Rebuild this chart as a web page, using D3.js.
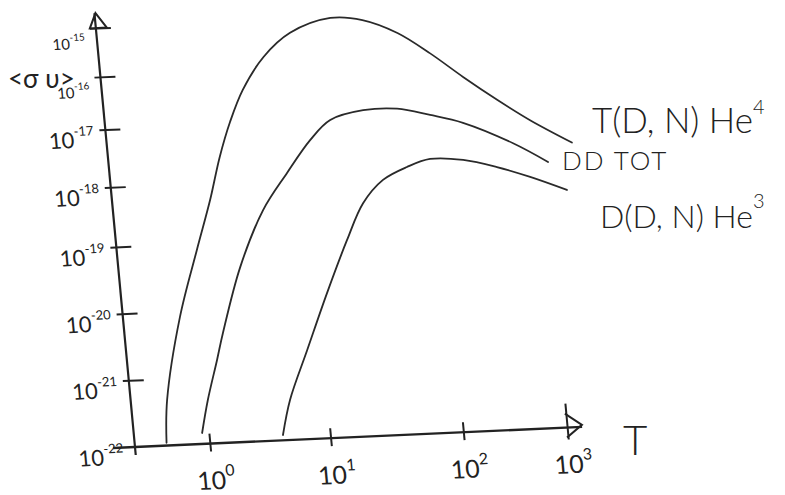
<!DOCTYPE html>
<html>
<head>
<meta charset="utf-8">
<script src="https://cdn.jsdelivr.net/npm/d3@7"></script>
<style>
  body { margin: 0; background: #fff; }
  text { font-family: Lato, "Open Sans", "DejaVu Sans", sans-serif; fill: #222; }
</style>
</head>
<body>
<script>
// Size of the page
var width = 785,
    height = 495;

// Tick decades on the T axis and on the <sigma v> axis
var tDecades = [1, 10, 100, 1000];
var tExponents = ["0", "1", "2", "3"];
var svDecades = [1e-22, 1e-21, 1e-20, 1e-19, 1e-18, 1e-17, 1e-16, 1e-15];
var svExponents = ["-22", "-21", "-20", "-19", "-18", "-17", "-16", "-15"];

// T(D,N)He4 curve
var dtT  = [0.44, 0.48, 0.71, 1.1, 1.55, 2.0, 2.6, 3.5, 5.5, 9.5, 19.6, 34, 61, 105, 207, 419, 832, 2000];
var dtSv = [1.1e-22, 4.8e-22, 8.2e-21, 7.9e-20, 5.2e-19, 2.7e-18, 1.1e-17, 4.3e-17, 1.8e-16, 5.3e-16,
            9.8e-16, 8.3e-16, 4.2e-16, 1.5e-16, 4.9e-17, 1.7e-17, 6.8e-18, 2.6e-18];

// DD TOT curve
var ddT  = [0.88, 1.04, 1.33, 1.56, 2.43, 4.16, 7.0, 11.4, 16.6, 29.8, 53.7, 94, 188, 545, 1135];
var ddSv = [1.46e-22, 4.5e-22, 1.76e-21, 4.4e-21, 4.1e-20, 3.2e-19, 1.29e-18, 4.6e-18, 9.8e-18,
            1.4e-17, 1.4e-17, 1.0e-17, 6.9e-18, 2.8e-18, 1.25e-18];

// D(D,N)He3 curve
var dhT  = [4.07, 4.96, 7.5, 11.9, 18.3, 25.6, 37.5, 58, 87.5, 175, 363, 741, 1625];
var dhSv = [1.2e-22, 4.0e-22, 2.15e-21, 1.49e-20, 8.9e-20, 3.5e-19, 8.3e-19, 1.32e-18, 1.74e-18,
            1.58e-18, 1.12e-18, 7.2e-19, 4.1e-19];

var svg = d3.select("body")
    .append("svg")
    .attr("width", width)
    .attr("height", height);

/* The sketch has slightly tilted axes, so the plot is drawn in its own
   frame (origin at the axis corner) and then sheared into place. */
var plot = svg.append("g")
    .attr("transform", "matrix(0.998,-0.045,0.093,0.995,135,447)");

// Hand drawn decades are not evenly spaced, so use piecewise log scales
var x = d3.scaleLog()
    .domain(tDecades)
    .range([75, 196, 329, 433]);

var y = d3.scaleLog()
    .domain(svDecades)
    .range([0, -67, -134, -201, -261, -319, -372, -421]);

// Axis lines
plot.append("line")
    .attr("x1", -22).attr("y1", 0)
    .attr("x2", 448).attr("y2", 0)
    .attr("stroke", "#222").attr("stroke-width", 2.4);

plot.append("line")
    .attr("x1", 0).attr("y1", 8)
    .attr("x2", 0).attr("y2", -436)
    .attr("stroke", "#222").attr("stroke-width", 2.2);

// Arrow heads
plot.append("path")
    .attr("d", "M-6,-421L1,-436L11,-421Z")
    .attr("fill", "none").attr("stroke", "#222").attr("stroke-width", 2);

plot.append("path")
    .attr("d", "M432,-14L448,-2L432,10")
    .attr("fill", "none").attr("stroke", "#222").attr("stroke-width", 2);

// Ticks crossing the T axis
var xAxis = plot.append("g")
    .call(d3.axisBottom(x).tickValues(tDecades).tickSize(8).tickFormat(""));
xAxis.select(".domain").remove();
xAxis.selectAll(".tick line")
    .attr("y1", -10)
    .attr("stroke", "#222")
    .attr("stroke-width", 2);
xAxis.selectAll(".tick").filter(function(d) { return d == 1000; })
    .select("line").attr("y1", -24).attr("y2", 12);

// Ticks crossing the <sigma v> axis
var yAxis = plot.append("g")
    .call(d3.axisLeft(y).tickValues(svDecades.slice(1)).tickSize(6).tickFormat(""));
yAxis.select(".domain").remove();
yAxis.selectAll(".tick line")
    .attr("x1", 15)
    .attr("stroke", "#222")
    .attr("stroke-width", 2);

// T tick labels, 10 with superscript exponent
tDecades.forEach(function(d, i) {
    var t = plot.append("text")
        .attr("x", x(d) - 16)
        .attr("y", 46)
        .attr("font-size", 25)
        .text("10");
    t.append("tspan")
        .attr("dy", -13)
        .attr("font-size", 16)
        .text(tExponents[i]);
});

// <sigma v> tick labels
svDecades.forEach(function(d, i) {
    var small = d >= 1e-16;
    var t = plot.append("text")
        .attr("x", -12)
        .attr("y", y(d) + (small ? 20 : 17))
        .attr("text-anchor", "end")
        .attr("font-size", small ? 15 : 22)
        .text("10");
    t.append("tspan")
        .attr("dy", small ? -8 : -12)
        .attr("font-size", small ? 10 : 13)
        .text(svExponents[i]);
});

// Curves
var line = d3.line()
    .x(function(d) { return x(d[0]); })
    .y(function(d) { return y(d[1]); })
    .curve(d3.curveCatmullRom.alpha(0.5));

[[dtT, dtSv], [ddT, ddSv], [dhT, dhSv]].forEach(function(s) {
    plot.append("path")
        .datum(d3.zip(s[0], s[1]))
        .attr("fill", "none")
        .attr("stroke", "#2a2a2a")
        .attr("stroke-width", 1.8)
        .attr("stroke-linecap", "round")
        .attr("d", line);
});

// Axis titles
svg.append("text")
    .attr("x", 8).attr("y", 88)
    .attr("font-size", 26)
    .text("<σ υ>");

svg.append("text")
    .attr("x", 623).attr("y", 455)
    .attr("font-size", 42)
    .attr("font-weight", 300)
    .text("T");

// Curve names
var n1 = svg.append("text")
    .attr("x", 592).attr("y", 133)
    .attr("font-size", 35)
    .attr("font-weight", 300)
    .text("T(D, N) He");
n1.append("tspan").attr("dy", -19).attr("font-size", 20).text("4");

svg.append("text")
    .attr("x", 562).attr("y", 170)
    .attr("font-size", 26)
    .attr("font-weight", 300)
    .attr("letter-spacing", 2)
    .text("DD TOT");

var n3 = svg.append("text")
    .attr("x", 600).attr("y", 228)
    .attr("font-size", 32)
    .attr("font-weight", 300)
    .text("D(D, N) He");
n3.append("tspan").attr("dy", -20).attr("font-size", 20).text("3");
</script>
</body>
</html>
